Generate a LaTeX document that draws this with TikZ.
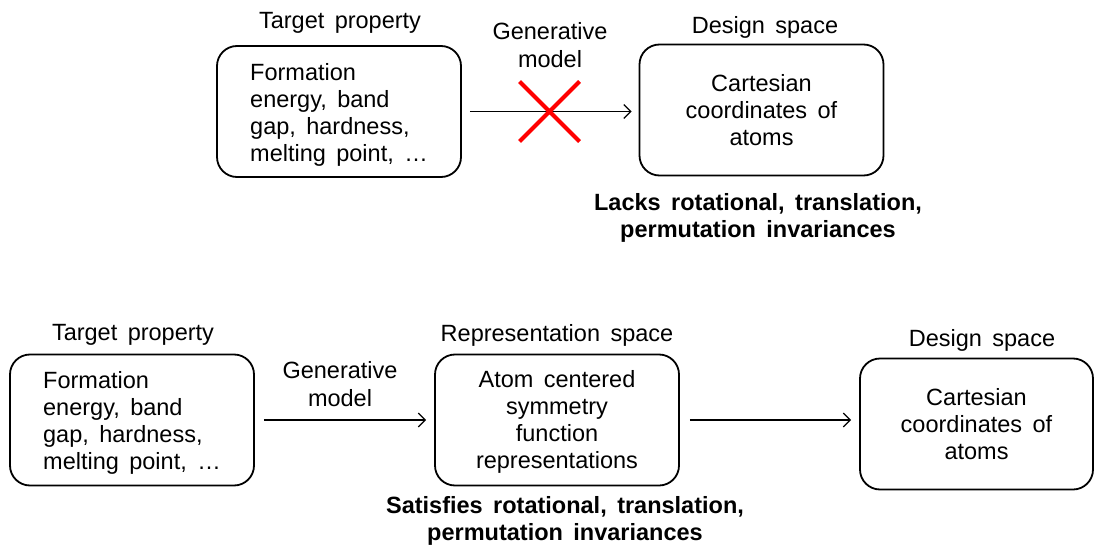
\documentclass[tikz,border=0pt]{standalone}
\usepackage{fontspec}
\setmainfont{Liberation Sans}[WordSpace=1.6]
\usetikzlibrary{arrows.meta,shapes.misc}
\newcommand{\lift}[1]{\rule{0pt}{#1}}
\begin{document}
\begin{tikzpicture}[x=1pt,y=-1pt,
  box/.style={draw, line width=1.8pt, rounded corners=20pt, minimum width=244pt,
    minimum height=131pt, font=\fontsize{23.5}{27}\selectfont, inner sep=0pt},
  lbox/.style={box, align=left},
  cbox/.style={box, align=center},
  lab/.style={font=\fontsize{23.5}{28}\selectfont, align=center, inner sep=0pt},
  note/.style={font=\fontsize{23.5}{27}\selectfont\bfseries, align=center, inner sep=0pt},
  arr/.style={-{Straight Barb[length=7pt,width=14pt]}, line width=1.2pt},
  nogo/.style={cross out, draw=red, line width=4pt, minimum size=56pt, inner sep=0pt},
]
\useasboundingbox (0,0) rectangle (1094,548);

% ---- top row ----
\node[lbox] (tp1) at (339,111.5) {\lift{23pt}Formation\\energy, band\\gap, hardness,\\melting point, \dots};
\node[lab] (tp1l) at (340,23) {Target property};
\node[cbox] (ds1) at (761.5,110) {Cartesian\\coordinates of\\atoms};
\node[lab] (ds1l) at (765,27) {Design space};
\node[lab] (gm1) at (550,45) {Generative\\model};
\draw[arr, shorten <=8pt, shorten >=7pt] (tp1.east) -- (tp1.east -| ds1.west);
\node[nogo] (x1) at (549.5,111.5) {};
\node[note] (n1) at (758,218) {Lacks rotational, translation,\\permutation invariances};

% ---- bottom row ----
\node[lbox] (tp2) at (132,420) {\lift{23pt}Formation\\energy, band\\gap, hardness,\\melting point, \dots};
\node[lab] (tp2l) at (133,335) {Target property};
\node[lab] (gm2) at (340,384) {Generative\\model};
\node[cbox] (rs) at (557,420) {\lift{21pt}Atom centered\\symmetry\\function\\representations};
\node[lab] (rsl) at (557,335) {Representation space};
\node[cbox, minimum width=233pt] (ds2) at (976.5,424) {Cartesian\\coordinates of\\atoms};
\node[lab] (ds2l) at (982,340) {Design space};
\draw[arr, shorten <=9pt, shorten >=8pt] (tp2.east) -- (tp2.east -| rs.west);
\draw[arr, shorten <=10pt, shorten >=8pt] (rs.east) -- (rs.east -| ds2.west);
\node[note] (n2) at (565,521) {Satisfies rotational, translation,\\permutation invariances};
\end{tikzpicture}
\end{document}
